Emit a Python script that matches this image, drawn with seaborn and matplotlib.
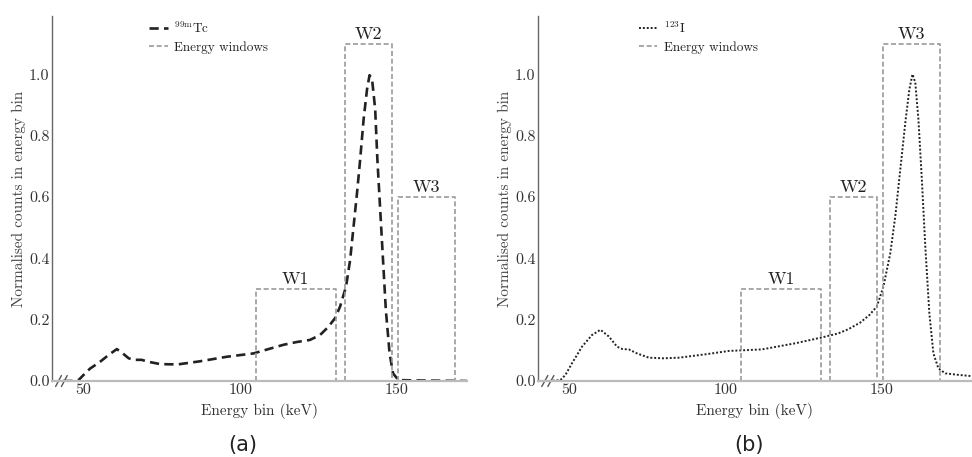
import numpy as np
import pandas as pd
import matplotlib
matplotlib.use("Agg")
import matplotlib.pyplot as plt
import seaborn as sns

# --- data ---
energy_tc = [43.5, 46.0, 48.4, 50.0, 52.0, 55.3, 58.0, 60.6, 62.5, 64.4, 66.0, 68.5,
             71.0, 74.5, 80.0, 87.0, 95.7, 104.3, 109.0, 113.8, 118.0, 122.3, 125.5,
             128.0, 130.3, 131.9, 133.8, 135.1, 136.2, 137.3, 138.3, 139.4, 140.5,
             141.3, 142.1, 143.1, 143.8, 144.7, 145.6, 146.5, 147.7, 148.8, 150.5,
             155.0, 172.4]
counts_tc = [0.0, 0.0, 0.003, 0.02, 0.04, 0.063, 0.085, 0.104, 0.09, 0.074, 0.069, 0.069,
             0.062, 0.055, 0.054, 0.064, 0.079, 0.09, 0.104, 0.118, 0.127, 0.134, 0.15,
             0.175, 0.205, 0.243, 0.308, 0.395, 0.504, 0.613, 0.722, 0.853, 0.951,
             0.997, 0.984, 0.886, 0.722, 0.559, 0.395, 0.232, 0.09, 0.025, 0.003,
             0.002, 0.0]

energy_i = [43.4, 47.1, 48.7, 50.8, 54.0, 57.2, 59.9, 62.6, 65.2, 67.0, 69.0, 71.6,
            75.4, 80.0, 85.0, 93.5, 101.0, 111.6, 122.3, 130.8, 136.0, 139.3, 143.0,
            146.0, 148.4, 150.5, 152.7, 154.3, 155.9, 157.5, 158.8, 159.8, 160.7,
            161.7, 162.8, 163.9, 165.2, 166.5, 168.1, 170.3, 174.5, 178.7]
counts_i = [0.0, 0.003, 0.02, 0.058, 0.112, 0.15, 0.167, 0.145, 0.112, 0.104, 0.103, 0.09,
            0.076, 0.074, 0.076, 0.087, 0.098, 0.103, 0.123, 0.142, 0.155, 0.169, 0.19,
            0.215, 0.243, 0.308, 0.417, 0.537, 0.69, 0.842, 0.951, 1.0, 0.973,
            0.853, 0.657, 0.439, 0.221, 0.09, 0.041, 0.025, 0.02, 0.016]

window_names = ["W1", "W2", "W3"]
window_lo = [105.0, 133.5, 150.5]
window_hi = [130.5, 148.5, 168.7]
heights_tc = [0.3, 1.1, 0.6]
heights_i = [0.3, 0.6, 1.1]

yticks = [0.0, 0.2, 0.4, 0.6, 0.8, 1.0]
xticks = [50, 100, 150]

sns.set_style("white")
plt.rcParams["font.family"] = ["cmr10", "DejaVu Serif"]
plt.rcParams["mathtext.fontset"] = "cm"
plt.rcParams["axes.formatter.use_mathtext"] = True


def draw_panel(ax, energy, counts, heights, label, style, lw, xmax):
    df = pd.DataFrame({"energy": energy, "counts": counts})
    sns.lineplot(data=df, x="energy", y="counts", ax=ax, color="#222222",
                 linestyle=style, linewidth=lw, label=label)
    for i, name in enumerate(window_names):
        lo, hi, h = window_lo[i], window_hi[i], heights[i]
        ax.plot([lo, lo, hi, hi], [0, h, h, 0], color="#9a9a9a", lw=1.2,
                linestyle=(0, (3, 1.6)), label="Energy windows" if i == 0 else None)
        ax.text((lo + hi) / 2, h + 0.006, name, ha="center", va="bottom",
                fontsize=13, color="#222222")

    ax.set_xlim(40, xmax)
    ax.set_ylim(0, 1.19)
    ax.set_xticks(xticks)
    ax.set_yticks(yticks)
    ax.set_xticklabels([str(t) for t in xticks])
    ax.set_yticklabels([f"{t:.1f}" for t in yticks])
    ax.tick_params(length=0, labelsize=11.5, colors="#333333", pad=2)
    ax.set_xlabel("Energy bin (keV)", fontsize=11, color="#333333", labelpad=4)
    ax.set_ylabel("Normalised counts in energy bin", fontsize=11, color="#444444",
                  labelpad=2)
    for s in ["top", "right"]:
        ax.spines[s].set_visible(False)
    ax.spines["left"].set_color("#666666")
    ax.spines["left"].set_linewidth(1.0)
    ax.spines["bottom"].set_color("#bbbbbb")
    ax.spines["bottom"].set_linewidth(1.6)

    # axis break marks
    for dx in [0.0, 0.014]:
        ax.plot([0.008 + dx, 0.022 + dx], [-0.015, 0.015], transform=ax.transAxes,
                color="#555555", lw=1.0, clip_on=False)

    leg = ax.legend(loc="upper left", bbox_to_anchor=(0.205, 1.02), frameon=False,
                    fontsize=9.5, handlelength=1.4, handletextpad=0.5, labelspacing=0.4)
    for t in leg.get_texts():
        t.set_color("#222222")


fig = plt.figure(figsize=(9.72, 4.57), dpi=100)
ax1 = fig.add_axes([0.0538, 0.1663, 0.4266, 0.7987])
ax2 = fig.add_axes([0.5538, 0.1663, 0.4457, 0.7987])

draw_panel(ax1, energy_tc, counts_tc, heights_tc, r"$^{99\mathrm{m}}$Tc",
           (0, (3.5, 2)), 1.9, 172.4)
draw_panel(ax2, energy_i, counts_i, heights_i, r"$^{123}$I",
           (0, (1, 1)), 1.4, 178.7)

fig.text(243 / 972, 1 - 445 / 457, "(a)", ha="center", va="center", fontsize=15,
         family="DejaVu Sans", color="#222222")
fig.text(749 / 972, 1 - 445 / 457, "(b)", ha="center", va="center", fontsize=15,
         family="DejaVu Sans", color="#222222")

fig.savefig("out.png", dpi=100)
